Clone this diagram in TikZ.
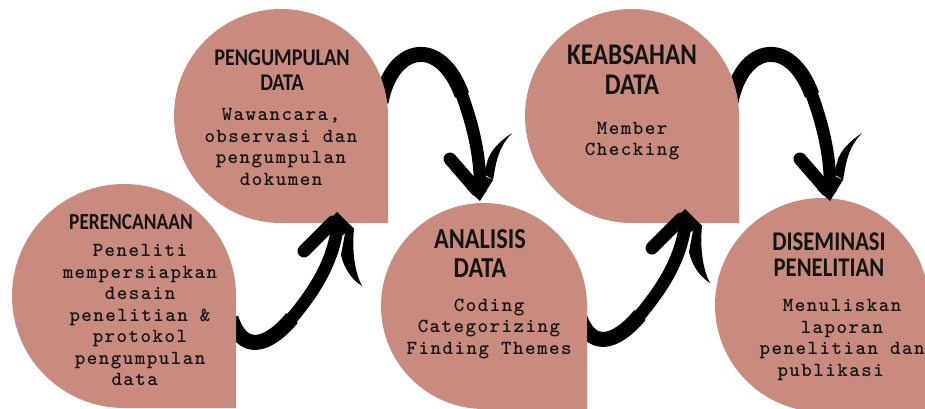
\documentclass[tikz,border=0pt]{standalone}
\usepackage{fontspec}
\newfontfamily\titlefont[FakeStretch=0.84]{Carlito}
\newfontfamily\bodyfont[LetterSpace=7.5]{lmmonolt10-bold.otf}
\definecolor{blob}{RGB}{201,139,125}
\definecolor{ink}{RGB}{20,20,20}
\tikzset{
  blobfill/.style={fill=blob},
  brush/.style={draw=black, line width=12.5pt, line cap=butt},
  brushthick/.style={draw=black, line width=15pt, line cap=butt},
  armstroke/.style={draw=black, line width=13pt, line cap=round},
  titletext/.style={text=ink, align=center, inner sep=0pt},
  bodytext/.style={text=ink, align=center, inner sep=0pt,
    font=\bodyfont\fontsize{20}{21.5}\selectfont},
  upshaft/.pic={
    \draw[brush] (-106,105) .. controls (-95,140) and (-70,135) .. (-45,105)
      .. controls (-20,75) and (-2,45) .. (1,8);
    \draw[brushthick] (-106,105) .. controls (-95,140) and (-70,135) .. (-45,105);},
  uphead/.pic={
    \fill[black] (0,-1) -- (17,16) -- (2,24) -- (-12,12) -- cycle;
    \draw[armstroke] (-4,9) -- (-33,38);
    \fill[black] (10,10) -- (17,16) .. controls (15,35) and (17,58) .. (25,73)
      .. controls (14,66) and (7,55) .. (4,42) -- cycle;},
  downshaft/.pic={
    \draw[brush] (-99,-97) .. controls (-88,-154) and (-40,-164) .. (-18,-104)
      .. controls (-6,-71) and (1,-39) .. (0,-7);
    \draw[brushthick] (-99,-97) .. controls (-88,-154) and (-40,-164) .. (-18,-104);},
  downhead/.pic={
    \fill[black] (0,2) -- (-13,-10) -- (0,-25) -- (13,-19) -- cycle;
    \draw[armstroke] (-3,-9) -- (-30,-40);
    \fill[black] (13,-19) .. controls (16,-35) and (17,-50) .. (32,-66)
      .. controls (20,-58) and (12,-50) .. (8,-40) -- (4,-25) -- cycle;}
}
\newcommand\blobshape[3]{\fill[blobfill] (#1+#3,#2) -- (#1+#3,#2+#3) -- (#1,#2+#3)
  arc[start angle=90,end angle=360,radius=#3] -- cycle;}
\begin{document}
\begin{tikzpicture}[x=1pt,y=-1pt]
\useasboundingbox (0,0) rectangle (925,409);
\clip (0,0) rectangle (925,409);
\fill[white] (0,0) rectangle (925,409);
% arrow anchor points
\coordinate (tipA) at (337,213);
\coordinate (tipB) at (480,199);
\coordinate (tipC) at (685,210);
\coordinate (tipD) at (830,199);
% shafts (tails hidden under the shapes)
\pic at (tipA) {upshaft};
\pic at (tipB) {downshaft};
\pic at (tipC) {upshaft};
\pic at (tipD) {downshaft};
% shapes
\blobshape{124}{296}{112}
\blobshape{281}{116}{107}
\blobshape{484}{306}{103}
\blobshape{632}{116}{107}
\blobshape{822}{305}{107}
% heads
\pic at (tipA) {uphead};
\pic at (tipB) {downhead};
\pic at (tipC) {uphead};
\pic at (tipD) {downhead};
% titles
\node[titletext, font=\titlefont\bfseries\fontsize{23}{25}\selectfont] (t1) at (131,222) {PERENCANAAN};
\node[titletext, font=\titlefont\bfseries\fontsize{24}{25}\selectfont] (t2) at (282,70.5) {PENGUMPULAN\\DATA};
\node[titletext, font=\titlefont\bfseries\fontsize{29}{29}\selectfont] (t3) at (480,253.5) {ANALISIS\\DATA};
\node[titletext, font=\titlefont\bfseries\fontsize{30}{30}\selectfont] (t4) at (632,70) {KEABSAHAN\\DATA};
\node[titletext, font=\titlefont\bfseries\fontsize{27}{26}\selectfont] (t5) at (829,255) {DISEMINASI\\PENELITIAN};
% bodies
\node[bodytext] (b1) at (140,315) {Peneliti\\mempersiapkan\\desain\\penelitian \&\\protokol\\pengumpulan\\data\hphantom{x}};
\node[bodytext] (b2) at (281,147) {Wawancara,\\observasi dan\\pengumpulan\\dokumen};
\node[bodytext] (b3) at (489,329) {Coding\\Categorizing\\Finding Themes};
\node[bodytext] (b4) at (632,141) {Member\\Checking};
\node[bodytext] (b5) at (842,340) {Menuliskan\\laporan\\penelitian dan\\publikasi\hphantom{xx}};
\end{tikzpicture}
\end{document}
